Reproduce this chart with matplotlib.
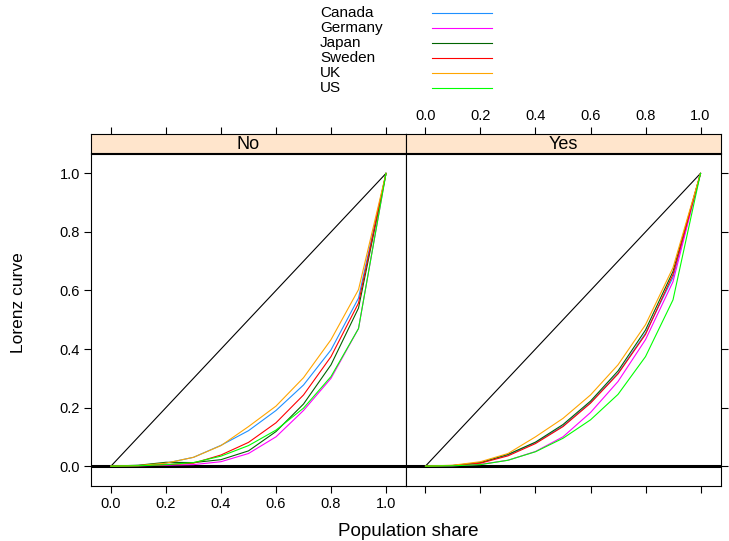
import numpy as np
import matplotlib.pyplot as plt
from matplotlib.lines import Line2D

plt.rcParams['font.family'] = ['Liberation Sans', 'DejaVu Sans']

# population share grid
pop = [0.0, 0.1, 0.2, 0.3, 0.4, 0.5, 0.6, 0.7, 0.8, 0.9, 1.0]

countries = ["Canada", "Germany", "Japan", "Sweden", "UK", "US"]
colores = ["#1E90FF", "#FF00FF", "#006400", "#FF0000", "#FFA500", "#00FF00"]

# panel "No"
no_canada = [0, 0.002, 0.010, 0.030, 0.071, 0.121, 0.190, 0.277, 0.397, 0.574, 1]
no_germany = [0, 0.001, 0.003, 0.005, 0.015, 0.043, 0.100, 0.190, 0.300, 0.470, 1]
no_japan = [0, 0.003, 0.013, 0.012, 0.022, 0.052, 0.118, 0.212, 0.346, 0.540, 1]
no_sweden = [0, 0.001, 0.005, 0.010, 0.038, 0.081, 0.148, 0.243, 0.374, 0.557, 1]
no_uk = [0, 0.002, 0.010, 0.030, 0.070, 0.135, 0.205, 0.302, 0.432, 0.603, 1]
no_us = [0, 0.001, 0.005, 0.012, 0.034, 0.070, 0.123, 0.198, 0.306, 0.470, 1]

# panel "Yes"
yes_canada = [0, 0.002, 0.012, 0.038, 0.080, 0.137, 0.217, 0.317, 0.454, 0.645, 1]
yes_germany = [0, 0.001, 0.006, 0.020, 0.050, 0.100, 0.183, 0.289, 0.432, 0.630, 1]
yes_japan = [0, 0.002, 0.012, 0.040, 0.082, 0.142, 0.222, 0.325, 0.465, 0.665, 1]
yes_sweden = [0, 0.002, 0.010, 0.035, 0.077, 0.135, 0.215, 0.315, 0.450, 0.655, 1]
yes_uk = [0, 0.003, 0.015, 0.043, 0.100, 0.163, 0.243, 0.346, 0.483, 0.678, 1]
yes_us = [0, 0.001, 0.005, 0.020, 0.049, 0.095, 0.158, 0.245, 0.374, 0.568, 1]

paineis = [
    ("No", [no_canada, no_germany, no_japan, no_sweden, no_uk, no_us]),
    ("Yes", [yes_canada, yes_germany, yes_japan, yes_sweden, yes_uk, yes_us]),
]

ticks = [0.0, 0.2, 0.4, 0.6, 0.8, 1.0]
tick_labels = ["0.0", "0.2", "0.4", "0.6", "0.8", "1.0"]

W, H = 729, 541
fig = plt.figure(figsize=(W / 100, H / 100), dpi=100)


def fx(px):
    return px / W


def fy(py):
    return 1 - py / H


x_esq = [91, 405.5]
larg = 315
topo_strip, base_strip, base = 134.5, 153.5, 486

for i, (nome, series) in enumerate(paineis):
    ax = fig.add_axes([fx(x_esq[i]), fy(base), larg / W, (base - base_strip) / H])
    sax = fig.add_axes([fx(x_esq[i]), fy(base_strip), larg / W, (base_strip - topo_strip) / H],
                       sharex=ax)

    ax.plot([0, 1], [0, 1], color="black", lw=0.8)
    ax.axhline(0, color="black", lw=2.2)
    for vals, cor in zip(series, colores):
        ax.plot(pop, vals, color=cor, lw=0.8)

    ax.set_xlim(-0.0727, 1.0727)
    ax.set_ylim(-0.068, 1.068)
    ax.set_xticks(ticks)
    ax.set_yticks(ticks)
    ax.set_xticklabels(tick_labels)
    ax.set_yticklabels(tick_labels)
    for sp in ax.spines.values():
        sp.set_linewidth(0.8)

    if i == 0:
        ax.tick_params(axis="both", direction="out", length=5, width=0.8, labelsize=10.5, pad=3,
                       left=True, labelleft=True, bottom=True, labelbottom=True,
                       right=False, top=False)
    else:
        ax.tick_params(axis="both", direction="out", length=5, width=0.8, labelsize=10.5, pad=3,
                       left=False, labelleft=False, bottom=True, labelbottom=False,
                       right=True, labelright=False, top=False)

    sax.set_facecolor("#FFE5CC")
    sax.set_yticks([])
    sax.tick_params(axis="x", direction="out", length=5, width=0.8, labelsize=10.5, pad=3,
                    bottom=False, labelbottom=False, top=True, labeltop=(i == 1))
    for sp in sax.spines.values():
        sp.set_linewidth(0.8)
    sax.text(0.5, 0.45, nome, transform=sax.transAxes, ha="center", va="center", fontsize=13)

# legend at top
for k, (nome, cor) in enumerate(zip(countries, colores)):
    yy = 13 + 15 * k
    fig.text(fx(320), fy(yy), nome, ha="left", va="center", fontsize=11)
    fig.add_artist(Line2D([fx(432), fx(492)], [fy(yy), fy(yy)], transform=fig.transFigure,
                          color=cor, lw=0.8))

fig.text(fx(408), fy(531), "Population share", ha="center", va="center", fontsize=13.5)
fig.text(fx(19), fy(303), "Lorenz curve", ha="center", va="center", rotation=90, fontsize=12.5)

plt.savefig("out.png", dpi=100)
